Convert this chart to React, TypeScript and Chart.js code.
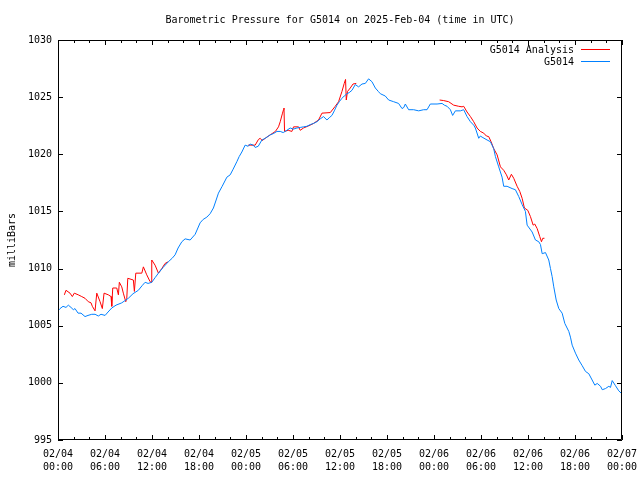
import React, { useEffect, useRef } from "react";
import { Chart, registerables } from "chart.js";

Chart.register(...registerables);

const TITLE = "Barometric Pressure for G5014 on 2025-Feb-04 (time in UTC)";
const Y_LABEL = "milliBars";
const SERIES_NAMES = ["G5014 Analysis", "G5014"];
const SERIES_COLORS = ["#ff0000", "#0080ff"];

// x axis in hours since 02/04 00:00 UTC
const X_TICKS = [0, 6, 12, 18, 24, 30, 36, 42, 48, 54, 60, 66, 72];
const X_TICK_DATES = ["02/04", "02/04", "02/04", "02/04", "02/05", "02/05", "02/05", "02/05", "02/06", "02/06", "02/06", "02/06", "02/07"];
const X_TICK_TIMES = ["00:00", "06:00", "12:00", "18:00", "00:00", "06:00", "12:00", "18:00", "00:00", "06:00", "12:00", "18:00", "00:00"];
const X_MINOR_STEP = 2;
const Y_TICKS = [995, 1000, 1005, 1010, 1015, 1020, 1025, 1030];

// G5014 observations
const stationHours = [
  0, 0.26, 0.64, 1.02, 1.32, 1.66, 1.96, 2.17, 2.56, 2.94, 3.45, 3.83, 4.31, 4.73, 5.15, 5.49,
  6.01, 6.39, 6.86, 7.41, 8.14, 8.56, 8.98, 9.58, 10.26, 10.73, 11.12, 11.5, 11.97, 12.39, 12.82,
  13.42, 14.09, 14.57, 14.95, 15.33, 15.81, 16.23, 16.87, 17.51, 18.14, 18.53, 19.0, 19.42, 19.84,
  20.19, 20.48, 20.96, 21.56, 21.98, 22.36, 22.83, 23.13, 23.47, 23.89, 24.28, 24.53, 24.92, 25.17,
  25.56, 26.03, 26.45, 27.09, 27.47, 27.95, 28.37, 28.75, 29.22, 29.64, 30.03, 30.5, 30.92, 31.34,
  31.78, 32.2, 32.62, 33.06, 33.48, 33.9, 34.33, 34.63, 34.97, 35.27, 35.61, 35.91, 36.25, 36.54,
  36.89, 37.18, 37.53, 37.95, 38.37, 38.81, 39.23, 39.65, 40.08, 40.51, 40.89, 41.15, 41.78, 42.21,
  42.85, 43.48, 43.92, 44.15, 44.34, 44.76, 45.4, 46.04, 46.68, 47.11, 47.53, 48.39, 49.03, 49.32,
  49.67, 50.09, 50.38, 50.73, 51.37, 51.79, 52.22, 52.65, 53.07, 53.28, 53.71, 53.92, 54.14, 54.78,
  55.2, 55.62, 55.84, 56.26, 56.69, 56.9, 57.33, 57.97, 58.39, 58.82, 59.25, 59.67, 59.89, 60.53,
  60.95, 61.37, 61.59, 61.81, 62.23, 62.65, 62.87, 63.08, 63.29, 63.6, 63.93, 64.36, 64.7, 65.21,
  65.42, 65.64, 66.06, 66.48, 66.92, 67.34, 67.76, 68.19, 68.53, 68.84, 69.26, 69.48, 69.89, 70.32,
  70.53, 70.75, 71.17, 71.59, 71.9, 72,
];
const stationValues = [
  1006.3, 1006.5, 1006.7, 1006.6, 1006.8, 1006.6, 1006.4, 1006.5, 1006.1, 1006.1, 1005.8, 1005.9,
  1006.0, 1006.0, 1005.85, 1006.0, 1005.9, 1006.2, 1006.55, 1006.8, 1007.0, 1007.2, 1007.4, 1007.8,
  1008.1, 1008.5, 1008.8, 1008.7, 1008.8, 1009.2, 1009.6, 1010.1, 1010.6, 1010.9, 1011.2, 1011.8,
  1012.35, 1012.6, 1012.5, 1013.0, 1014.0, 1014.3, 1014.5, 1014.8, 1015.3, 1016.0, 1016.6, 1017.2,
  1018.0, 1018.2, 1018.7, 1019.35, 1019.8, 1020.2, 1020.8, 1020.7, 1020.9, 1020.8, 1020.6, 1020.7,
  1021.25, 1021.4, 1021.7, 1021.8, 1022.0, 1022.0, 1021.9, 1022.1, 1022.3, 1022.2, 1022.3, 1022.35,
  1022.4, 1022.45, 1022.6, 1022.7, 1022.85, 1023.1, 1023.3, 1023.0, 1023.2, 1023.4, 1023.8, 1024.3,
  1024.6, 1024.9, 1025.1, 1025.3, 1025.4, 1025.6, 1026.1, 1025.9, 1026.15, 1026.2, 1026.6, 1026.35,
  1025.8, 1025.5, 1025.3, 1025.1, 1024.75, 1024.6, 1024.45, 1024.0, 1024.1, 1024.4, 1023.9, 1023.9,
  1023.8, 1023.9, 1023.9, 1024.4, 1024.4, 1024.45, 1024.3, 1024.2, 1023.9, 1023.4, 1023.8, 1023.8,
  1023.9, 1023.3, 1022.85, 1022.55, 1022.3, 1021.4, 1021.6, 1021.5, 1021.25, 1021.1, 1020.5, 1019.8,
  1018.9, 1018.0, 1017.2, 1017.2, 1017.0, 1016.9, 1016.3, 1015.6, 1015.0, 1013.8, 1013.2, 1012.5,
  1012.35, 1012.1, 1011.3, 1011.4, 1010.75, 1010.0, 1009.3, 1008.4, 1007.25, 1006.5, 1006.1, 1005.2,
  1004.5, 1004.0, 1003.3, 1002.6, 1002.0, 1001.5, 1001.0, 1000.8, 1000.25, 999.8, 999.95, 999.7,
  999.4, 999.5, 999.7, 999.6, 1000.2, 999.75, 999.3, 999.1, 999.1,
];

// G5014 Analysis (null = no analysis line drawn)
const analysisHours = [
  0.81, 1.02, 1.53, 1.83, 2.08, 2.59, 3.03, 3.45, 3.87, 4.22, 4.38, 4.73, 4.95, 5.37, 5.66, 5.88,
  6.43, 6.77, 6.86, 6.99, 7.5, 7.71, 7.83, 8.14, 8.34, 8.65, 8.78, 8.91, 9.62, 9.75, 9.93, 10.7,
  10.9, 11.33, 11.76, 11.88, 11.97, 12.39, 12.82, 13.25, 13.67, 14.09,
  19.0,
  24.28, 24.53, 25.17, 25.59, 25.81, 26.07, 26.45, 27.09, 27.75, 28.15, 28.37, 28.66, 28.79, 28.85,
  28.92, 29.39, 29.86, 30.07, 30.71, 30.92, 31.34, 32.2, 32.62, 33.26, 33.7, 34.76, 35.39, 35.82,
  36.25, 36.54, 36.71, 36.8, 36.96, 37.31, 37.66, 38.08,
  43.0,
  48.72, 49.23, 49.87, 50.51, 51.15, 51.58, 51.79, 52.22, 52.65, 53.07, 53.5, 53.92, 54.35, 54.69,
  54.98, 55.29, 55.62, 56.06, 56.48, 56.9, 57.25, 57.54, 57.88, 58.18, 58.61, 58.95, 59.25, 59.54,
  59.97, 60.31, 60.66, 60.86, 61.17, 61.5, 61.72, 61.88, 62.1,
];
const analysisValues = [
  1007.7, 1008.1, 1007.85, 1007.55, 1007.85, 1007.7, 1007.55, 1007.4, 1007.1, 1007.0, 1006.7, 1006.3,
  1007.85, 1007.1, 1006.5, 1007.85, 1007.7, 1007.55, 1006.7, 1008.3, 1008.3, 1007.7, 1008.8, 1008.4,
  1007.85, 1007.1, 1007.4, 1009.15, 1009.0, 1008.0, 1009.6, 1009.6, 1010.15, 1009.45, 1008.85, 1008.8,
  1010.75, 1010.3, 1009.6, 1010.0, 1010.45, 1010.6,
  null,
  1020.8, 1020.8, 1020.8, 1021.3, 1021.4, 1021.2, 1021.4, 1021.7, 1022.0, 1022.4, 1022.85, 1023.6,
  1023.9, 1024.05, 1022.0, 1022.1, 1022.0, 1022.4, 1022.4, 1022.1, 1022.3, 1022.55, 1022.7, 1023.0,
  1023.6, 1023.65, 1024.2, 1024.6, 1025.5, 1026.2, 1026.55, 1024.75, 1025.5, 1025.8, 1026.15, 1026.2,
  null,
  1024.75, 1024.7, 1024.6, 1024.3, 1024.2, 1024.15, 1024.2, 1023.7, 1023.3, 1022.85, 1022.3, 1022.0,
  1021.85, 1021.6, 1021.55, 1021.1, 1020.5, 1019.95, 1018.9, 1018.6, 1018.2, 1017.75, 1018.25, 1017.9,
  1017.2, 1016.75, 1016.15, 1015.3, 1015.1, 1014.55, 1013.8, 1013.9, 1013.5, 1012.8, 1012.35, 1012.65,
  1012.65,
];

const FONT_FAMILY = "'DejaVu Sans Mono', 'Liberation Mono', monospace";
const FONT_SIZE = 10;

const framePlugin = {
  id: "gnuplotFrame",
  afterDraw(chart: any) {
    const { ctx, chartArea } = chart;
    const { left, right, top, bottom } = chartArea;
    const xs = chart.scales.x;
    const ys = chart.scales.y;
    ctx.save();
    ctx.strokeStyle = "#000";
    ctx.lineWidth = 1;
    ctx.beginPath();
    ctx.rect(left + 0.5, top + 0.5, right - left - 1, bottom - top - 1);
    ctx.stroke();

    ctx.beginPath();
    // x ticks (major + minor), bottom and top, pointing inward
    for (let h = xs.min; h <= xs.max + 1e-6; h += X_MINOR_STEP) {
      const isMajor = X_TICKS.includes(h);
      const len = isMajor ? 5 : 3;
      const px = Math.round(xs.getPixelForValue(h)) + 0.5;
      ctx.moveTo(px, bottom);
      ctx.lineTo(px, bottom - len);
      ctx.moveTo(px, top);
      ctx.lineTo(px, top + len);
    }
    for (const v of Y_TICKS) {
      const py = Math.round(ys.getPixelForValue(v)) + 0.5;
      ctx.moveTo(left, py);
      ctx.lineTo(left + 5, py);
      ctx.moveTo(right, py);
      ctx.lineTo(right - 5, py);
    }
    ctx.stroke();

    ctx.fillStyle = "#000";
    ctx.font = `${FONT_SIZE}px ${FONT_FAMILY}`;
    // title
    ctx.textAlign = "center";
    ctx.textBaseline = "middle";
    ctx.fillText(TITLE, (left + right) / 2, 20);

    // y axis label
    ctx.save();
    ctx.translate(12, (top + bottom) / 2);
    ctx.rotate(-Math.PI / 2);
    ctx.textAlign = "center";
    ctx.textBaseline = "middle";
    ctx.fillText(Y_LABEL, 0, 0);
    ctx.restore();

    // legend (top right, inside)
    const legendRows = [
      { name: SERIES_NAMES[0], color: SERIES_COLORS[0], y: 50 },
      { name: SERIES_NAMES[1], color: SERIES_COLORS[1], y: 62 },
    ];
    for (const row of legendRows) {
      ctx.fillStyle = "#000";
      ctx.textAlign = "right";
      ctx.textBaseline = "middle";
      ctx.fillText(row.name, 574, row.y);
      ctx.strokeStyle = row.color;
      ctx.beginPath();
      ctx.moveTo(581, row.y - 0.5);
      ctx.lineTo(610, row.y - 0.5);
      ctx.stroke();
    }
    ctx.restore();
  },
};

export default function App() {
  const canvasRef = useRef<HTMLCanvasElement | null>(null);

  useEffect(() => {
    document.body.style.margin = "0";
    const canvas = canvasRef.current;
    if (!canvas) return;

    const stationData = stationHours.map((h, i) => ({ x: h, y: stationValues[i] }));
    const analysisData = analysisHours.map((h, i) => ({ x: h, y: analysisValues[i] }));

    const font = { family: FONT_FAMILY, size: FONT_SIZE, lineHeight: 1.3 };

    const chart = new Chart(canvas, {
      type: "line",
      data: {
        datasets: [
          {
            label: SERIES_NAMES[1],
            data: stationData,
            borderColor: SERIES_COLORS[1],
            backgroundColor: SERIES_COLORS[1],
            borderWidth: 1,
            pointRadius: 0,
            tension: 0,
            fill: false,
          },
          {
            label: SERIES_NAMES[0],
            data: analysisData as any,
            borderColor: SERIES_COLORS[0],
            backgroundColor: SERIES_COLORS[0],
            borderWidth: 1,
            pointRadius: 0,
            tension: 0,
            fill: false,
            spanGaps: false,
          },
        ],
      },
      options: {
        animation: false,
        responsive: false,
        devicePixelRatio: 1,
        layout: { padding: { top: 40, right: 18, left: 0, bottom: 0 } },
        plugins: {
          legend: { display: false },
          title: { display: false },
          tooltip: { enabled: false },
        },
        scales: {
          x: {
            type: "linear",
            min: 0,
            max: 72,
            grid: { display: false, drawTicks: false },
            border: { display: false },
            afterBuildTicks: (scale: any) => {
              scale.ticks = X_TICKS.map((v) => ({ value: v }));
            },
            afterFit: (scale: any) => {
              scale.height = 40;
              scale.paddingLeft = 0;
              scale.paddingRight = 0;
            },
            ticks: {
              autoSkip: false,
              maxRotation: 0,
              minRotation: 0,
              padding: 8,
              color: "#000",
              font,
              callback: (value: any) => {
                const i = X_TICKS.indexOf(Number(value));
                return i >= 0 ? [X_TICK_DATES[i], X_TICK_TIMES[i]] : "";
              },
            },
          },
          y: {
            type: "linear",
            min: 995,
            max: 1030,
            grid: { display: false, drawTicks: false },
            border: { display: false },
            afterBuildTicks: (scale: any) => {
              scale.ticks = Y_TICKS.map((v) => ({ value: v }));
            },
            afterFit: (scale: any) => {
              scale.width = 58;
              scale.paddingTop = 0;
              scale.paddingBottom = 0;
            },
            ticks: {
              padding: 6,
              color: "#000",
              font: { family: FONT_FAMILY, size: FONT_SIZE },
              callback: (value: any) => String(value),
            },
          },
        },
      },
      plugins: [framePlugin],
    });

    return () => chart.destroy();
  }, []);

  return (
    <div style={{ width: 640, height: 480, background: "#fff" }}>
      <canvas ref={canvasRef} width={640} height={480} />
    </div>
  );
}
